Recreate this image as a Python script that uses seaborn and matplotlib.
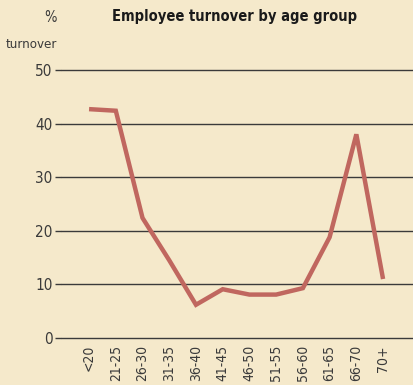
import matplotlib
matplotlib.use("Agg")
import matplotlib.pyplot as plt
import seaborn as sns
import pandas as pd

age_groups = ["<20", "21-25", "26-30", "31-35", "36-40", "41-45",
              "46-50", "51-55", "56-60", "61-65", "66-70", "70+"]
turnover_pct = [42.7, 42.4, 22.4, 14.5, 6.2, 9.1, 8.1, 8.1, 9.3, 18.8, 38.0, 11.0]
y_ticks = [0, 10, 20, 30, 40, 50]

bg = "#F5E9CB"
line_color = "#C0675F"
text_color = "#3a3a3a"

sns.set_theme(style="white")
plt.rcParams["font.family"] = ["DejaVu Sans"]
plt.rcParams["font.stretch"] = "condensed"

df = pd.DataFrame({"pos": range(len(age_groups)), "turnover": turnover_pct})

fig = plt.figure(figsize=(4.13, 3.85), dpi=100, facecolor=bg)
ax = fig.add_axes([61 / 413, 47 / 385, 352 / 413, 268 / 385])
ax.set_facecolor(bg)

sns.lineplot(data=df, x="pos", y="turnover", ax=ax, color=line_color,
             linewidth=3.2, solid_capstyle="butt", solid_joinstyle="miter", zorder=3)

ax.set_ylim(0, 50)
ax.set_xlim(-1.05, 12.12)
ax.set_yticks(y_ticks)
ax.set_yticklabels([str(t) for t in y_ticks], fontsize=11, color=text_color)
for t in y_ticks:
    ax.axhline(t, color="#3a3a3a", linewidth=1.0, zorder=2, clip_on=False)
ax.set_xticks(range(len(age_groups)))
ax.set_xticklabels(age_groups, rotation=90, fontsize=10, color=text_color)
ax.tick_params(axis="y", length=4, width=1, color="#3a3a3a", pad=2, left=True)
ax.tick_params(axis="x", length=0, pad=5)
for s in ax.spines.values():
    s.set_visible(False)
ax.set_xlabel("")
ax.set_ylabel("")

fig.text(235 / 413, 1 - 17 / 385, "Employee turnover by age group", ha="center", va="center",
         fontsize=10.5, fontweight="bold", color="#1a1a1a")
fig.text(57 / 413, 1 - 17 / 385, "%", ha="right", va="center", fontsize=10.5, color=text_color)
fig.text(57 / 413, 1 - 45 / 385, "turnover", ha="right", va="center", fontsize=9.5, color=text_color)

fig.savefig("out.png", dpi=100, facecolor=bg)
